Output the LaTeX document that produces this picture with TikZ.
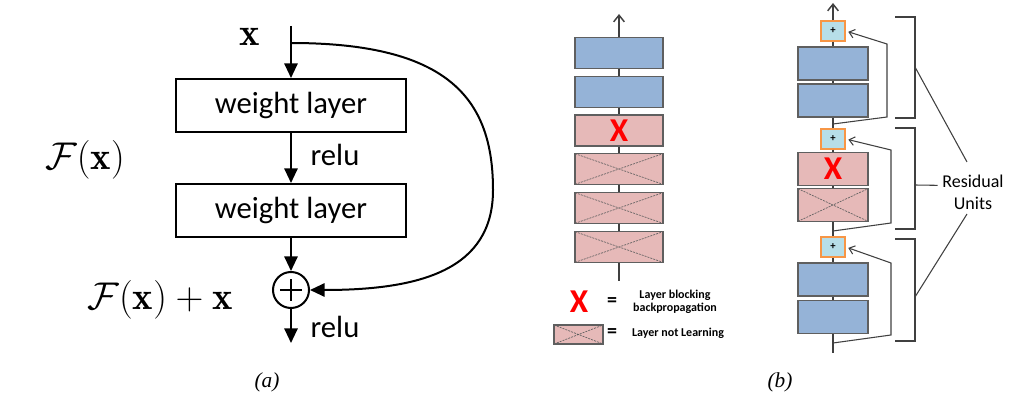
\documentclass[tikz,border=0pt]{standalone}
\usepackage{fix-cm}
\usepackage{fontspec}
\newfontfamily\cb{Carlito}
\newfontfamily\tms{Liberation Serif}
\usetikzlibrary{arrows.meta,calc}
\definecolor{blu}{HTML}{95B3D7}
\definecolor{pnk}{HTML}{E6B9B8}
\definecolor{bord}{HTML}{5F5F5F}
\definecolor{lgray}{HTML}{404040}
\definecolor{orng}{HTML}{F79646}
\definecolor{lbl}{HTML}{B7DEE8}
\begin{document}
\begin{tikzpicture}[x=0.75pt,y=-0.75pt,
  wl/.style={draw, line width=1.5pt, minimum width=172.5pt, minimum height=39.75pt, inner sep=0, font=\cb\fontsize{23}{27}\selectfont},
  arr/.style={line width=1.5pt, -{Triangle[length=11pt,width=10pt]}},
  lbl23/.style={font=\cb\fontsize{23}{27}\selectfont, inner sep=0},
  mth/.style={font=\fontsize{29}{32}\selectfont, inner sep=0},
  layer/.style={draw=bord, line width=1.1pt, minimum width=66pt, minimum height=23pt, inner sep=0},
  rsz/.style={minimum width=52.5pt, minimum height=24.5pt},
  blayer/.style={layer, fill=blu},
  player/.style={layer, fill=pnk},
  redx/.style={text=red, font=\cb\bfseries\fontsize{25}{25}\selectfont},
  crossed/.style={layer, fill=pnk, path picture={\draw[bord, line width=0.5pt, dash pattern=on 1.5pt off 0.8pt] (path picture bounding box.north west) -- (path picture bounding box.south east) (path picture bounding box.south west) -- (path picture bounding box.north east);}},
  pbox/.style={draw=orng, fill=lbl, line width=1.1pt, minimum width=18pt, minimum height=15pt, inner sep=0, font=\cb\bfseries\fontsize{8}{8}\selectfont},
  cl/.style={draw=lgray, line width=1.1pt},
  toparr/.style={cl, -{Straight Barb[length=5pt,width=8pt]}},
  skp/.style={draw=lgray, line width=0.8pt, -{Straight Barb[length=4pt,width=6.5pt]}, shorten >=2pt},
  brk/.style={draw=lgray, line width=1.1pt},
  thn/.style={draw=lgray, line width=0.8pt},
  eqs/.style={font=\cb\bfseries\fontsize{15}{15}\selectfont, inner sep=0},
  lt/.style={font=\cb\bfseries\fontsize{9}{9.75}\selectfont, inner sep=0},
  subcap/.style={font=\tms\fontsize{16}{18}\selectfont\itshape, inner sep=0}
]
\useasboundingbox (0,0) rectangle (1036,410);

% ---------------- (a) ----------------
\node[wl] (w1) at (291,105.5) {weight layer};
\node[wl] (w2) at (291,210.5) {weight layer};
\node[circle, draw, line width=1.5pt, minimum size=27pt, inner sep=0] (sum) at (291,290) {};
\draw[line width=1.5pt] ([xshift=-8pt]sum.center) -- ([xshift=8pt]sum.center)
      ([yshift=-8pt]sum.center) -- ([yshift=8pt]sum.center);
\coordinate (xin) at (291,26);
\coordinate (brn) at (291,43);
\coordinate (out) at (291,343);
\draw[arr] (xin) -- (w1.north);
\draw[arr] (w1) -- (w2);
\draw[arr] (w2) -- (sum);
\draw[arr] (sum) -- (out);
\draw[arr] (brn) .. controls (450,43) and (493,100) .. (493,190)
      .. controls (493,270) and (420,290) .. (sum.east);
\node[mth] (xl) at (250,37) {$\mathbf{x}$};
\node[lbl23] (r1) at (335,155) {relu};
\node[lbl23] (r2) at (335,327) {relu};
\node[mth] (fx) at (85,160) {$\mathcal{F}(\mathbf{x})$};
\node[mth] (fxx) at (160,300) {$\mathcal{F}(\mathbf{x})+\mathbf{x}$};
\node[subcap] (la) at (267,382) {(a)};

% ---------------- (b) left ----------------
\node[blayer] (a1) at (619,53) {};
\node[blayer] (a2) at (619,92) {};
\node[player, redx] (a3) at (619,130.5) {X};
\node[crossed] (a4) at (619,169) {};
\node[crossed] (a5) at (619,208) {};
\node[crossed] (a6) at (619,247) {};
\coordinate (atop) at (619,14);
\coordinate (abot) at (619,281);
\draw[toparr] (a1) -- (atop);
\draw[cl] (a1) -- (a2);
\draw[cl] (a2) -- (a3);
\draw[cl] (a3) -- (a4);
\draw[cl] (a4) -- (a5);
\draw[cl] (a5) -- (a6);
\draw[cl] (a6) -- (abot);

% legend
\node[redx, inner sep=0] (lx) at (579,302) {X};
\node[eqs] (e1) at (612,302) {=};
\node[lt, align=center] (t1) at (675,302) {Layer blocking\\backpropagation};
\node[crossed, minimum width=36.75pt, minimum height=14.25pt] (lb) at (578.5,334.5) {};
\node[eqs] (e2) at (612,333) {=};
\node[lt] (t2) at (678,333) {Layer not Learning};

% ---------------- (b) right ----------------
\node[pbox] (p1) at (833,31) {+};
\node[blayer, rsz] (c1) at (833,63.5) {};
\node[blayer, rsz] (c2) at (833,100.5) {};
\node[pbox] (p2) at (833,139) {+};
\node[player, rsz, redx] (c3) at (833,169) {X};
\node[crossed, rsz] (c4) at (833,205) {};
\node[pbox] (p3) at (833,247) {+};
\node[blayer, rsz] (c5) at (833,279.5) {};
\node[blayer, rsz] (c6) at (833,317) {};
\coordinate (btop) at (833,3);
\coordinate (j1) at (833,124);
\coordinate (j2) at (833,231);
\coordinate (j3) at (833,343);
\coordinate (bbot) at (833,353);
\draw[toparr] (p1) -- (btop);
\draw[cl] (p1) -- (c1);
\draw[cl] (c1) -- (c2);
\draw[cl] (c2) -- (p2);
\draw[cl] (p2) -- (c3);
\draw[cl] (c3) -- (c4);
\draw[cl] (c4) -- (p3);
\draw[cl] (p3) -- (c5);
\draw[cl] (c5) -- (c6);
\draw[cl] (c6) -- (bbot);
\draw[skp] (j1) -- (887,117) -- (887,44) -- (p1.east);
\draw[skp] (j2) -- (891,223) -- (891,150) -- (p2.east);
\draw[skp] (j3) -- (891,335) -- (891,263) -- (p3.east);

% brackets
\draw[brk] (895,17) -- (915,17) -- (915,118) -- (895,118);
\draw[brk] (895,128) -- (915,128) -- (915,229) -- (895,229);
\draw[brk] (895,239) -- (915,239) -- (915,341) -- (895,341);
\coordinate (m1) at (915,67);
\coordinate (m2) at (915,185);
\coordinate (m3) at (915,297);
\node[font=\cb\fontsize{13.5}{16.5}\selectfont, align=center] (RU) at (973,192) {Residual\\Units};
\draw[thn] (m1) -- ([shift={(-4.5pt,6pt)}]RU.north);
\draw[thn] (m2) -- ([yshift=5pt]RU.west);
\draw[thn] (m3) -- ([xshift=-4.5pt]RU.south);

\node[subcap] (lb2) at (780,382) {(b)};
\end{tikzpicture}
\end{document}
